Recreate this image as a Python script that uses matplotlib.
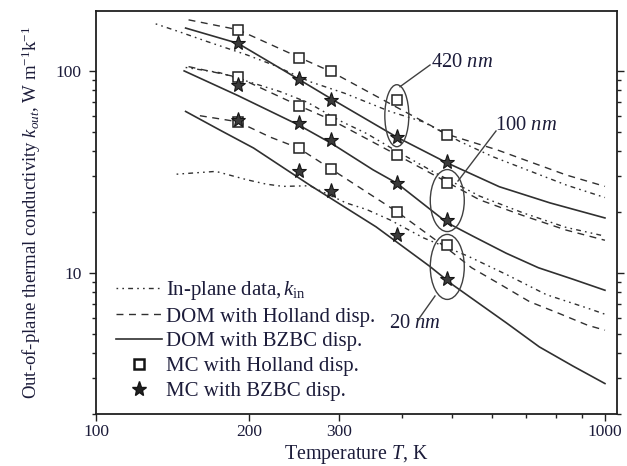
import matplotlib
matplotlib.use("Agg")
import matplotlib.pyplot as plt
from matplotlib.patches import Ellipse
from matplotlib.lines import Line2D
from matplotlib.ticker import FixedLocator, NullFormatter, LogLocator

plt.rcParams['font.family'] = ['Liberation Serif', 'DejaVu Serif']
plt.rcParams['mathtext.fontset'] = 'custom'
plt.rcParams['mathtext.rm'] = 'Liberation Serif'
plt.rcParams['mathtext.it'] = 'Liberation Serif:italic'

TXT = '#1c1c3a'
LC = '#303030'

# Monte Carlo temperatures (K)
T_mc = [190, 250, 290, 390, 490]

# MC with Holland dispersion
mc_holland_420 = [160, 116, 100, 72, 48]
mc_holland_100 = [93, 67, 57, 38.5, 28]
mc_holland_20 = [56, 41.5, 32.5, 20, 13.8]

# MC with BZBC dispersion
mc_bzbc_420 = [138, 91, 72, 47, 35.5]
mc_bzbc_100 = [85, 55.5, 45.5, 28, 18.2]
mc_bzbc_20 = [57, 32, 25.3, 15.4, 9.3]

# DOM with BZBC dispersion
T_bzbc_420 = [150, 190, 250, 290, 390, 490, 620, 780, 1000]
k_bzbc_420 = [163, 137, 91, 72.7, 47, 35, 26.7, 22.2, 18.7]
T_bzbc_100 = [149, 190, 250, 290, 350, 390, 490, 550, 640, 740, 865, 1000]
k_bzbc_100 = [100, 75.5, 54, 43.8, 32.4, 27.8, 17.7, 15.2, 12.5, 10.6, 9.3, 8.2]
T_bzbc_20 = [150, 175, 204, 263, 355, 452, 503, 641, 743, 866, 1000]
k_bzbc_20 = [63, 51, 41.5, 27.2, 16.9, 10.8, 8.7, 5.64, 4.3, 3.45, 2.83]

# DOM with Holland dispersion
T_hol_420 = [152, 190, 250, 290, 390, 490, 613, 840, 1000]
k_hol_420 = [179, 160, 117, 99, 66, 48.5, 40.7, 30.5, 26.8]
T_hol_100 = [152, 190, 250, 290, 390, 490, 567, 691, 838, 1000]
k_hol_100 = [105, 93, 67.4, 57.2, 38.4, 28.1, 23, 19.2, 16.3, 14.5]
T_hol_20 = [160, 190, 220, 250, 290, 390, 490, 547, 626, 711, 812, 925, 1000]
k_hol_20 = [60, 56, 47, 41.5, 32.6, 20.1, 13.2, 10.6, 8.7, 7.2, 6.3, 5.5, 5.2]

# In-plane measured data
T_in_420 = [131, 146, 165, 198, 223, 263, 308, 378, 439, 519, 602, 840, 1000]
k_in_420 = [171, 156, 140, 120, 107, 88.5, 77.5, 63, 56, 44.7, 37.6, 27.2, 23.6]
T_in_100 = [150, 175, 195, 230, 260, 300, 340, 390, 467, 567, 691, 838, 1000]
k_in_100 = [104, 98, 90, 79, 70, 57, 49, 40, 31, 24, 19.8, 16.8, 15.2]
T_in_20 = [144, 172, 198, 216, 233, 263, 310, 340, 378, 440, 538, 641, 767, 922, 1000]
k_in_20 = [30.8, 31.8, 28.9, 27.5, 26.8, 27.0, 22.2, 20.6, 18.3, 14.9, 12.1, 9.8, 7.8, 6.7, 6.24]

# film thickness groups: label, ellipse centre (T, k)
thick_labels = ['420', '100', '20']
ellipse_centres = [(390, 60), (490, 22.8), (490, 10.7)]

x_ticks = [100, 200, 300, 1000]
x_ticklabels = ['100', '200', '300', '1000']
y_ticks = [10, 100]
y_ticklabels = ['10', '100']

W, H = 627, 466
fig = plt.figure(figsize=(W / 100, H / 100), dpi=100)
L, R, TOP, BOT = 96, 617, 11, 414
ax = fig.add_axes([L / W, (H - BOT) / H, (R - L) / W, (BOT - TOP) / H])
ax.set_xscale('log')
ax.set_yscale('log')
ax.set_xlim(100, 1056)
ax.set_ylim(2.0, 198)


def px(x, y):
    return ((x - L) / (R - L), (BOT - y) / (BOT - TOP))


inplane_ls = (0, (1.2, 3.0, 1.2, 3.0, 3.5, 3.0))
dash_ls = (0, (5, 4))

for T, k in [(T_in_420, k_in_420), (T_in_100, k_in_100), (T_in_20, k_in_20)]:
    ax.plot(T, k, color=LC, lw=1.0, ls=inplane_ls)
for T, k in [(T_hol_420, k_hol_420), (T_hol_100, k_hol_100), (T_hol_20, k_hol_20)]:
    ax.plot(T, k, color=LC, lw=1.0, ls=dash_ls)
for T, k in [(T_bzbc_420, k_bzbc_420), (T_bzbc_100, k_bzbc_100), (T_bzbc_20, k_bzbc_20)]:
    ax.plot(T, k, color=LC, lw=1.2, ls='-')

for k in [mc_holland_420, mc_holland_100, mc_holland_20]:
    ax.plot(T_mc, k, ls='none', marker='s', ms=7.2, mfc='white', mec='#202020',
            mew=1.1, zorder=4)
for k in [mc_bzbc_420, mc_bzbc_100, mc_bzbc_20]:
    ax.plot(T_mc, k, ls='none', marker='*', ms=11, mfc='#3a3a3a', mec='#151515',
            mew=0.8, zorder=5)

# ellipses grouping the MC points for each thickness
to_axes = ax.transAxes.inverted()
ell_sizes = [(24, 62), (34, 62), (34, 65)]
for (Tc, kc), (ew, eh) in zip(ellipse_centres, ell_sizes):
    cx, cy = to_axes.transform(ax.transData.transform((Tc, kc)))
    ax.add_patch(Ellipse((cx, cy), ew / (R - L), eh / (BOT - TOP),
                         transform=ax.transAxes, fill=False, ec='#404040',
                         lw=1.0, zorder=6))

# leader lines and thickness labels
leaders = [((400, 86.7), (430, 65)), ((458, 181), (496, 131)), ((435, 296), (418, 320))]
label_pos = [(431, 63), (495, 126), (389, 323)]
for lab, (p0, p1), (tx, ty) in zip(thick_labels, leaders, label_pos):
    a0, a1 = px(*p0), px(*p1)
    ax.plot([a0[0], a1[0]], [a0[1], a1[1]], transform=ax.transAxes,
            color='#404040', lw=1.0, zorder=6)
    ax.text(*px(tx, ty), lab + r' $\mathit{nm}$', transform=ax.transAxes,
            ha='left', va='center', fontsize=14.8, color=TXT)

# axes and ticks
ax.xaxis.set_major_locator(FixedLocator(x_ticks))
ax.set_xticklabels(x_ticklabels)
ax.xaxis.set_minor_locator(FixedLocator([400, 500, 600, 700, 800, 900]))
ax.xaxis.set_minor_formatter(NullFormatter())
ax.yaxis.set_major_locator(FixedLocator(y_ticks))
ax.set_yticklabels(y_ticklabels)
ax.yaxis.set_minor_locator(LogLocator(base=10, subs=range(2, 10)))
ax.yaxis.set_minor_formatter(NullFormatter())
ax.tick_params(which='both', direction='out', top=False, right=True,
               labelsize=12.5, labelcolor=TXT, color='#202020', width=1.0)
ax.tick_params(which='major', length=5.3)
ax.tick_params(axis='x', which='major', pad=2)
ax.tick_params(axis='y', which='major', pad=5)
ax.tick_params(which='minor', length=3.2)
for s in ax.spines.values():
    s.set_linewidth(1.3)
    s.set_color('#202020')

ax.set_xlabel(r'Temperature $T$, K', fontsize=14.4, color=TXT, labelpad=2)
ax.set_ylabel(r'Out-of-plane thermal conductivity $k_{out}$, W m$^{-1}$k$^{-1}$',
              fontsize=13.5, color=TXT, labelpad=9)

handles = [
    Line2D([], [], color=LC, lw=1.0, ls=inplane_ls),
    Line2D([], [], color=LC, lw=1.0, ls=dash_ls),
    Line2D([], [], color=LC, lw=1.2, ls='-'),
    Line2D([], [], ls='none', marker='s', ms=7, mfc='white', mec='#151515', mew=1.8),
    Line2D([], [], ls='none', marker='*', ms=11, mfc='#202020', mec='#151515'),
]
labels = [r'In-plane data,$\,k_{\rm in}$', 'DOM with Holland disp.',
          'DOM with BZBC disp.', 'MC with Holland disp.', 'MC with BZBC disp.']
leg = ax.legend(handles, labels, loc='lower left', bbox_to_anchor=px(116, 401),
                borderaxespad=0, frameon=False, fontsize=15, handlelength=2.2,
                handletextpad=0.2, labelspacing=0.25, borderpad=0)
for t in leg.get_texts():
    t.set_color(TXT)

fig.savefig('out.png', dpi=100)
